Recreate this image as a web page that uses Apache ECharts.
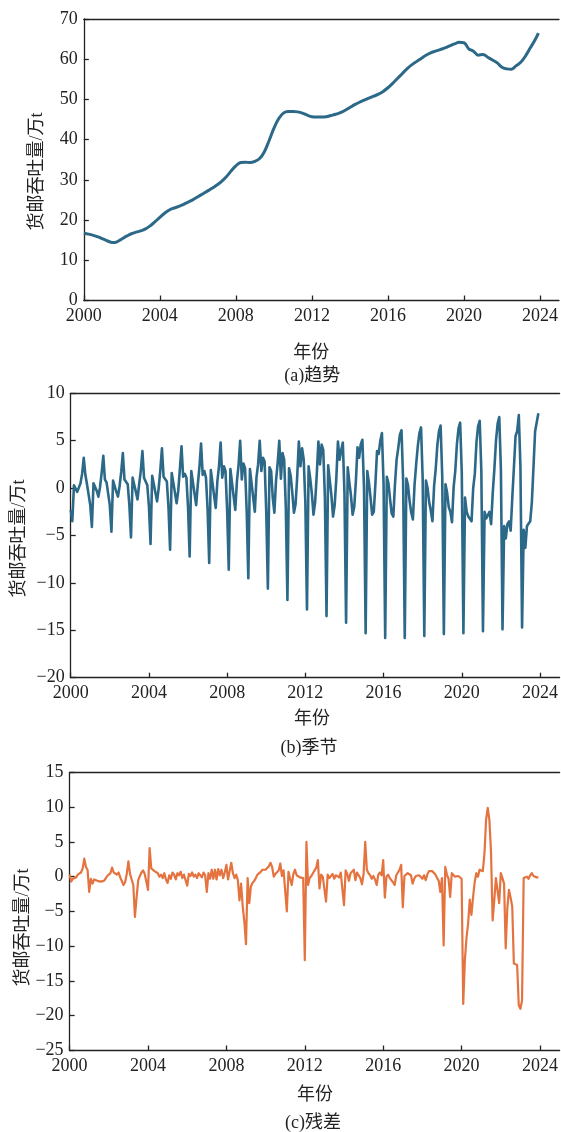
<!DOCTYPE html>
<html><head><meta charset="utf-8">
<script src="https://cdn.jsdelivr.net/npm/echarts@6/dist/echarts.min.js"></script>
<style>html,body{margin:0;padding:0;background:#fff}#c{width:561px;height:1132px}</style>
</head><body><div id="c"></div>
<script>
// ---- data ----
const xTickLabels = [2000, 2004, 2008, 2012, 2016, 2020, 2024];
const yTicksTrend = [0, 10, 20, 30, 40, 50, 60, 70];
const yTicksSeasonal = [-20, -15, -10, -5, 0, 5, 10];
const yTicksResid = [-25, -20, -15, -10, -5, 0, 5, 10, 15];

// trend, quarterly (Jan, Apr, Jul, Oct) 2000-2023
const trendQuarterly = [
  16.7, 16.5, 16.2, 15.8,
  15.3, 14.8, 14.4, 14.6,
  15.3, 16.0, 16.6, 17.0,
  17.3, 17.8, 18.6, 19.6,
  20.7, 21.7, 22.5, 23.0,
  23.4, 23.9, 24.5, 25.1,
  25.8, 26.5, 27.2, 27.9,
  28.7, 29.6, 30.8, 32.2,
  33.5, 34.3, 34.4, 34.3,
  34.6, 35.3, 37.0, 39.8,
  42.8, 45.2, 46.6, 47.0,
  47.0, 46.9, 46.6, 46.1,
  45.7, 45.6, 45.6, 45.7,
  46.0, 46.3, 46.7, 47.3,
  48.0, 48.7, 49.3, 49.8,
  50.3, 50.8, 51.3, 52.0,
  52.9, 54.0, 55.2, 56.4,
  57.6, 58.6, 59.4, 60.2,
  61.0, 61.6, 62.0, 62.4,
  62.8, 63.3, 63.8, 64.2,
  64.1, 62.6, 62.0, 61.0,
  61.2, 60.5, 59.8, 59.1,
  58.0, 57.6, 57.5, 58.4,
  59.3, 60.9, 62.9, 64.9
];
const trendLastDec2023 = 66.5;

// seasonal, monthly Jan..Dec per year
const seasonal2000s = [
  [-2.3, -3.5, 0.3, 0.2, -0.4, -0.6, 0.5, 1.5, 3.2, 1.4, 0.4, 0.3],
  [-1.8, -4.1, 0.5, 0.3, -0.3, -0.9, 0.1, 1.6, 3.4, 0.9, 0.6, 0.4],
  [-1.8, -4.6, 0.8, 0.6, -0.4, -0.9, 0.2, 1.7, 3.7, 0.9, 0.8, 0.4],
  [-1.8, -5.2, 1.1, 0.9, -0.4, -1.2, 0.4, 1.8, 3.9, 1.1, 1.0, 0.3],
  [-1.9, -5.9, 1.3, 1.1, -0.5, -1.4, 0.0, 1.9, 4.2, 1.2, 1.1, 0.7],
  [-2.0, -6.5, 1.6, 1.4, -0.5, -1.6, -0.3, 2.0, 4.4, 1.2, 1.5, 1.1],
  [-2.0, -7.2, 1.8, 1.6, -0.6, -1.8, 0.4, 2.2, 4.7, 1.4, 1.8, 1.1],
  [-2.2, -7.9, 1.9, 1.8, -0.8, -2.1, 0.7, 2.3, 4.8, 1.1, 2.3, 1.8],
  [-2.3, -8.6, 2.0, 1.8, -0.9, -2.3, 0.7, 2.4, 5.0, 0.9, 2.6, 2.1],
  [-2.4, -9.5, 2.0, 1.8, -1.0, -2.5, 1.1, 2.5, 5.0, 1.8, 3.2, 2.8],
  [-2.5, -10.6, 2.2, 1.8, -1.0, -2.6, 0.8, 2.6, 5.0, 1.0, 3.7, 3.0],
  [-2.0, -11.8, 2.1, 1.3, -0.5, -2.6, -1.7, 1.2, 4.9, 2.3, 4.2, 3.0]
];
const seasonal2010s = [
  [-1.5, -12.8, 2.3, 1.0, -0.6, -2.8, -1.5, 1.4, 4.9, 2.5, 4.6, 4.0],
  [-1.0, -13.5, 2.4, 0.8, -0.8, -3.0, -1.8, 1.0, 4.9, 3.0, 4.0, 4.8],
  [-0.5, -14.2, 2.2, 0.6, -0.8, -2.8, -2.0, 0.7, 4.3, 3.2, 4.6, 5.1],
  [0.0, -15.3, 1.8, 0.6, -1.0, -2.8, -2.5, 0.5, 3.9, 3.6, 5.0, 5.8],
  [0.5, -15.8, 1.2, 0.5, -1.2, -2.7, -3.0, 0.4, 3.0, 4.2, 5.6, 6.1],
  [0.8, -15.8, 1.0, 0.3, -1.4, -2.6, -3.3, 0.3, 2.5, 4.4, 5.8, 6.4],
  [1.0, -15.6, 0.8, 0.0, -1.5, -2.4, -3.5, 0.2, 2.0, 4.5, 6.0, 6.6],
  [1.3, -15.4, 0.4, -0.5, -2.0, -2.5, -3.6, 0.1, 1.8, 4.6, 6.3, 6.9],
  [1.6, -15.3, -1.0, -2.5, -3.0, -2.8, -3.5, 0.0, 1.5, 4.8, 6.5, 7.1],
  [1.8, -15.1, -2.5, -3.2, -3.0, -2.5, -3.8, -0.5, 2.0, 5.0, 6.8, 7.5],
  [2.0, -14.9, -4.0, -5.3, -3.8, -3.5, -4.5, -1.0, 2.2, 5.5, 6.0, 7.7],
  [2.2, -14.7, -4.4, -6.3, -4.0, -3.8, -3.5, -1.5, 2.2, 6.0, 6.0, 7.9]
];

// residual, monthly Jan..Dec per year
const resid2000s = [
  [0.3, -0.7, -0.3, -0.4, -0.1, 0.3, 0.2, 0.6, 1.2, 2.6, 1.4, 1.0],
  [-2.2, -0.3, -1.0, -0.4, -0.5, -0.6, -0.4, -0.7, -0.5, -0.6, -0.3, 0.1],
  [0.2, 0.5, 1.3, 0.6, 0.5, 0.3, 0.6, -0.1, 0.0, -1.2, -0.8, 0.4],
  [2.2, 0.4, -0.4, -1.2, -5.8, -3.0, -0.5, 0.1, 0.6, 0.9, 0.4, 0.2],
  [-1.9, 4.1, 1.2, 1.4, 0.8, 1.0, 0.5, 0.0, 0.3, -0.2, 0.5, -0.4],
  [-0.9, 0.2, -0.3, 0.6, 0.3, -0.4, 0.5, 0.2, 0.7, -0.2, 0.3, 0.1],
  [-1.3, 0.4, 0.1, 0.6, 0.0, 0.3, -0.2, 0.5, 0.2, -0.1, 0.6, 0.2],
  [-2.2, 0.5, -0.3, 1.0, -0.3, 1.0, -0.4, 1.1, 0.2, 1.0, -0.2, 0.6],
  [1.7, -0.4, 0.8, 2.0, 0.5, -0.2, 0.3, -0.5, -3.4, -1.0, -4.3, -6.5],
  [-9.7, -0.2, -3.8, -1.4, -0.9, -0.6, -0.2, 0.3, 0.5, 0.7, 1.0, 0.9],
  [1.0, 1.2, 1.5, 2.0, 1.4, 0.0, 0.4, 0.2, 0.9, 1.9, 0.1, 0.9],
  [1.0, -5.0, 0.7, -0.3, -1.2, 0.4, 1.0, 0.2, 0.0, -0.1, 0.1, -0.2]
];
const resid2010s = [
  [-12.0, 5.0, -1.2, -0.2, 0.1, 0.5, 0.9, 1.3, 2.4, -1.7, 0.3, 0.0],
  [0.2, -3.6, 0.3, -0.2, 0.0, 0.4, -0.3, 0.2, 0.4, -0.1, 0.6, 0.8],
  [-4.1, 0.9, 0.4, -0.6, 0.5, 0.3, 1.0, -0.5, 0.6, 0.8, -0.2, -1.1],
  [0.4, 5.0, 1.0, 0.5, 0.2, -0.3, 0.1, -0.4, -1.2, 0.3, 0.6, 0.2],
  [2.4, -3.0, 0.0, 0.3, -0.2, -0.4, -0.8, -1.2, 0.2, 0.6, 1.0, 1.7],
  [-4.4, 0.1, 0.0, 0.5, 0.7, 0.2, -1.0, -0.3, 0.1, 0.3, 0.2, 0.0],
  [-0.3, 0.2, -0.5, 0.3, 0.8, 1.0, 0.8, 0.6, 0.3, -0.2, -0.6, -2.2],
  [-0.2, -9.9, 1.4, 0.3, -0.3, -2.9, 0.5, 0.3, 0.0, 0.2, 0.1, -0.1],
  [-0.3, -18.3, -12.0, -8.8, -6.7, -3.3, -5.5, -3.0, -0.8, 0.5, 0.0, 1.0],
  [1.2, 0.8, 3.4, 8.2, 9.9, 8.2, 3.6, -6.3, -3.4, -0.2, -0.2, -3.8],
  [0.5, -0.2, -1.0, -10.3, -4.5, -1.9, -3.0, -4.3, -12.5, -12.3, -12.7, -18.5],
  [-19.0, -17.8, -0.2, -0.3, 0.0, -0.3, 0.2, 0.5, 0.1, 0.3, -0.1, -0.1]
];

// ---- build ----
const monthT = i => 2000 + i / 12;
const seasonal = seasonal2000s.concat(seasonal2010s).flat();
const resid = resid2000s.concat(resid2010s).flat();
const seasonalData = seasonal.map((v, i) => [monthT(i), v]);
const residData = resid.map((v, i) => [monthT(i), v]);
const trendData = trendQuarterly.map((v, i) => [2000 + i / 4, v]);
trendData.push([monthT(287), trendLastDec2023]);

const BLUE = '#2c6888';
const ORANGE = '#e4733f';
const INK = '#222';
const FONT = '"Liberation Serif", "Noto Sans CJK SC", serif';
const minus = v => (v < 0 ? '\u2212' + Math.abs(v) : String(v));

function xAxis(gi) {
  return {
    type: 'value', gridIndex: gi, min: 2000, max: 2025, interval: 4,
    axisLine: { show: true, onZero: false, lineStyle: { color: INK, width: 1.3 } },
    axisTick: { show: true, inside: true, length: 5, lineStyle: { color: INK, width: 1.3 } },
    axisLabel: {
      show: true, margin: 7, color: INK, fontFamily: FONT, fontSize: 18,
      showMaxLabel: false,
      formatter: v => (xTickLabels.indexOf(v) >= 0 ? String(v) : '')
    },
    splitLine: { show: false }
  };
}
function topAxis(gi) {
  return {
    type: 'value', gridIndex: gi, position: 'top', min: 2000, max: 2025,
    axisLine: { show: true, onZero: false, lineStyle: { color: INK, width: 1.3 } },
    axisTick: { show: false }, axisLabel: { show: false }, splitLine: { show: false }
  };
}
function yAxis(gi, ticks) {
  return {
    type: 'value', gridIndex: gi, min: ticks[0], max: ticks[ticks.length - 1],
    interval: ticks[1] - ticks[0],
    axisLine: { show: true, onZero: false, lineStyle: { color: INK, width: 1.3 } },
    axisTick: { show: true, inside: true, length: 5, lineStyle: { color: INK, width: 1.3 } },
    axisLabel: { show: true, margin: 6, color: INK, fontFamily: FONT, fontSize: 18, formatter: minus },
    splitLine: { show: false }
  };
}
function txt(text, x, y, rot) {
  return {
    type: 'text', x: x, y: y, rotation: rot || 0,
    style: {
      text: text, font: '18px ' + FONT, fill: INK,
      align: 'center', verticalAlign: 'middle',
      textAlign: 'center', textVerticalAlign: 'middle'
    }
  };
}

const chart = echarts.init(document.getElementById('c'), null, { renderer: 'canvas' });
chart.setOption({
  animation: false,
  backgroundColor: '#fff',
  grid: [
    { left: 83.8, top: 19, width: 480, height: 281.5 },
    { left: 70.7, top: 393.3, width: 491.3, height: 284.4 },
    { left: 69.6, top: 772.4, width: 492.5, height: 278.1 }
  ],
  xAxis: [xAxis(0), xAxis(1), xAxis(2), topAxis(0), topAxis(1), topAxis(2)],
  yAxis: [yAxis(0, yTicksTrend), yAxis(1, yTicksSeasonal), yAxis(2, yTicksResid)],
  series: [
    { name: '趋势', type: 'line', xAxisIndex: 0, yAxisIndex: 0, data: trendData, showSymbol: false, smooth: 0.4,
      lineStyle: { color: BLUE, width: 3 } },
    { name: '季节', type: 'line', xAxisIndex: 1, yAxisIndex: 1, data: seasonalData, showSymbol: false,
      lineStyle: { color: BLUE, width: 2.6, join: 'round' } },
    { name: '残差', type: 'line', xAxisIndex: 2, yAxisIndex: 2, data: residData, showSymbol: false,
      lineStyle: { color: ORANGE, width: 2.2, join: 'round' } }
  ],
  graphic: [
    txt('货邮吞吐量/万t', 37.6, 171.5, Math.PI / 2),
    txt('年份', 311.3, 353.3),
    txt('(a)趋势', 312.2, 376),
    txt('货邮吞吐量/万t', 18.8, 538.5, Math.PI / 2),
    txt('年份', 312, 719),
    txt('(b)季节', 309, 748),
    txt('货邮吞吐量/万t', 23.2, 927.5, Math.PI / 2),
    txt('年份', 314.9, 1095.5),
    txt('(c)残差', 312.9, 1123.3)
  ]
});
</script>
</body></html>
